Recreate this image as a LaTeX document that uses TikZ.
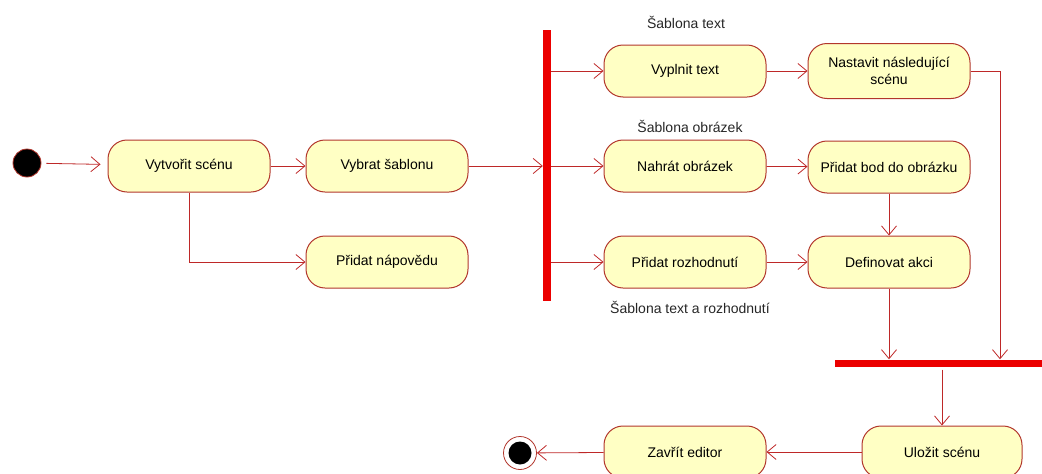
\documentclass[tikz,border=0pt]{standalone}
\usepackage{fontspec}
\setmainfont{Liberation Sans}
\usetikzlibrary{arrows.meta}
\definecolor{actfill}{RGB}{255,255,196}
\definecolor{actdraw}{RGB}{178,54,44}
\definecolor{flow}{RGB}{190,40,40}
\definecolor{barred}{RGB}{235,0,0}
\begin{document}
\begin{tikzpicture}[x=1pt,y=-1pt,
  font=\fontsize{14}{16.5}\selectfont,
  act/.style={draw=actdraw,fill=actfill,line width=1pt,rounded corners=19pt,
    minimum width=162pt,minimum height=52pt,align=center,inner sep=2pt},
  flowline/.style={draw=flow,line width=0.8pt,-{Straight Barb[length=9pt,width=15pt,line width=0.8pt]}},
  note/.style={font=\fontsize{14}{16.5}\selectfont,text=black!85}]
\useasboundingbox (0,0) rectangle (1042,474);

% initial and final states
\node[circle,fill=black,draw=actdraw,line width=0.8pt,minimum size=28pt,inner sep=0pt] (start) at (27,163) {};
\node[circle,draw=actdraw,fill=white,line width=0.8pt,minimum size=33pt,inner sep=0pt] (end) at (520,453) {};
\node[circle,fill=black,minimum size=23pt,inner sep=0pt] at (end) {};

% activities
\node[act] (vytvorit) at (189,166) {Vytvořit scénu};
\node[act] (vybrat) at (387,166) {Vybrat šablonu};
\node[act] (napoveda) at (387,262) {Přidat nápovědu};
\node[act] (vyplnit) at (685,71) {Vyplnit text};
\node[act,minimum height=55pt] (nastavit) at (889,71) {Nastavit následující\\scénu};
\node[act] (nahrat) at (685,166) {Nahrát obrázek};
\node[act] (bod) at (889,167) {Přidat bod do obrázku};
\node[act] (rozhodnuti) at (685,262) {Přidat rozhodnutí};
\node[act] (akce) at (889,262) {Definovat akci};
\node[act,minimum width=160pt] (ulozit) at (942,452) {Uložit scénu};
\node[act] (zavrit) at (685,452) {Zavřít editor};

% fork and join bars
\node[fill=barred,minimum width=8pt,minimum height=271pt,inner sep=0pt] (fork) at (547,165.5) {};
\node[fill=barred,minimum width=210pt,minimum height=7pt,inner sep=0pt,anchor=west] (join) at (835,363) {};

% template labels
\node[note] (lt) at (686,22) {Šablona text};
\node[note] (lo) at (690,126) {Šablona obrázek};
\node[note] (lr) at (690,307) {Šablona text a rozhodnutí};

% control flows
\draw[flowline,shorten <=5pt,shorten >=7pt] (start) -- (vytvorit);
\draw[flowline] (vytvorit) -- (vybrat);
\draw[flowline] (vytvorit.south) |- (napoveda.west);
\draw[flowline] (vybrat.east) -- (fork.west |- vybrat.east);
\draw[flowline] (fork.east |- vyplnit.west) -- (vyplnit.west);
\draw[flowline] (fork.east |- nahrat.west) -- (nahrat.west);
\draw[flowline] (fork.east |- rozhodnuti.west) -- (rozhodnuti.west);
\draw[flowline] (vyplnit) -- (nastavit);
\draw[flowline] (nahrat) -- (bod);
\draw[flowline] (rozhodnuti) -- (akce);
\draw[flowline] (bod) -- (akce);
\coordinate (nr) at (1000,71);
\draw[flowline] (nastavit.east) -- (nr) -- (nr |- join.north);
\draw[flowline] (akce.south) -- (akce.south |- join.north);
\draw[flowline,shorten <=3pt] (join.south -| ulozit.north) -- (ulozit.north);
\draw[flowline] (ulozit) -- (zavrit);
\draw[flowline] (zavrit) -- (end);
\end{tikzpicture}
\end{document}
